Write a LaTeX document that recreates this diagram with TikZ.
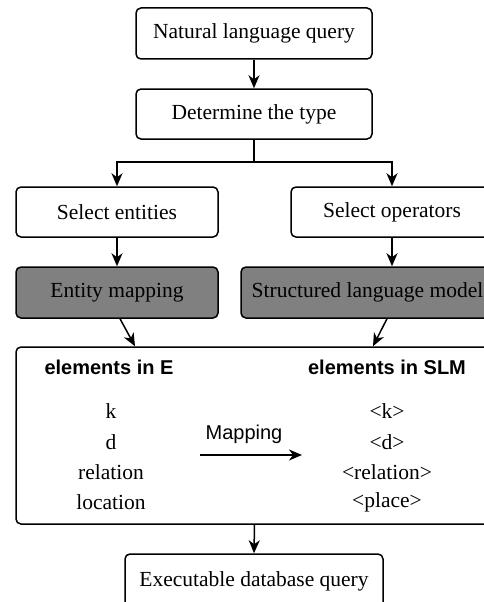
\documentclass[tikz,border=0pt]{standalone}
\usepackage{fontspec}
\setmainfont{Liberation Serif}
\setsansfont{Liberation Sans}
\usetikzlibrary{arrows.meta}
\definecolor{boxgray}{RGB}{128,128,128}
\begin{document}
\begin{tikzpicture}[x=1pt,y=-1pt,
  box/.style={draw, line width=1.5pt, rounded corners=5pt, minimum height=51pt,
    inner sep=0pt, font=\fontsize{21.5}{24}\selectfont},
  shaded/.style={box, fill=boxgray},
  conn/.style={line width=1.5pt, -{Stealth[length=13pt,width=11pt,inset=4pt]}},
  head/.style={font=\sffamily\bfseries\fontsize{20}{24}\selectfont},
  item/.style={font=\fontsize{21.5}{24}\selectfont},
  lbl/.style={font=\sffamily\fontsize{20}{24}\selectfont},
]
\useasboundingbox (0,0) rectangle (484,602);
\clip (0,0) rectangle (484,602);

% main flow
\node[box, minimum width=236pt] (nlq) at (254,33.5) {Natural language query};
\node[box, minimum width=236pt, minimum height=50pt] (type) at (254,114) {Determine the type};
\node[box, minimum width=202pt, minimum height=50pt] (ent) at (117,212) {Select entities};
\node[box, minimum width=202pt, minimum height=50pt] (ops) at (392,212) {Select operators};
\node[shaded, minimum width=202pt] (emap) at (117,292.5) {Entity mapping};
\node[shaded, minimum width=253pt] (slm) at (367.5,292.5) {Structured language model};
\node[box, minimum width=477pt, minimum height=177pt] (elem) at (254.5,435.5) {};
\node[box, minimum width=258pt, minimum height=54pt] (exe) at (254,581) {Executable database query};

% contents of the element table
\node[head] (hE) at (109,367) {elements in E};
\node[head] (hS) at (387,367) {elements in SLM};
\node[item] (lk) at (111,411) {k};
\node[item] (ld) at (111,442) {d};
\node[item] (lr) at (111,472) {relation};
\node[item] (ll) at (111,502) {location};
\node[item] (rk) at (387,411) {<k>};
\node[item] (rd) at (387,442) {<d>};
\node[item] (rr) at (387,472) {<relation>};
\node[item] (rl) at (387,502) {<place>};
\node[lbl] (maplbl) at (244,434) {Mapping};
\coordinate (mapA) at (200,455);
\coordinate (mapB) at (302,455);

% connectors
\draw[conn] (nlq.south) -- (type.north);
\draw[line width=1.5pt] (type.south) -- ++(0,22) coordinate (split);
\draw[conn] (split) -| (ent.north);
\draw[conn] (split) -| (ops.north);
\draw[conn] (ent.south) -- (emap.north);
\draw[conn] (ops.south) -- (ops.south |- slm.north);
\draw[conn] ([xshift=3pt]emap.south) -- ([xshift=-119.5pt]elem.north);
\draw[conn] ([xshift=19.5pt]slm.south) -- ([xshift=118.5pt]elem.north);
\draw[conn] (mapA) -- (mapB);
\draw[conn] (elem.south) -- (exe.north);
\end{tikzpicture}
\end{document}
